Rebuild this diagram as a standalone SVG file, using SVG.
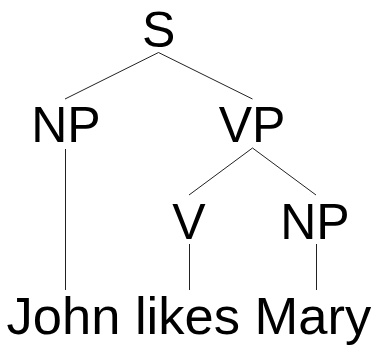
<svg xmlns="http://www.w3.org/2000/svg" width="381" height="351" viewBox="0 0 381 351">
  <style>
    .lbl { font-family: "Liberation Sans", Arial, sans-serif; font-size: 50px; fill: #000; text-anchor: middle; }
    .word { font-family: "Liberation Sans", Arial, sans-serif; font-size: 52.5px; fill: #000; }
    .edge { stroke: #222; stroke-width: 1; fill: none; }
  </style>
  <rect width="381" height="351" fill="#fff"/>
  <g id="edges">
    <line class="edge" x1="158.5" y1="52.5" x2="65" y2="99"/>
    <line class="edge" x1="158.5" y1="52.5" x2="252.5" y2="99"/>
    <line class="edge" x1="65.5" y1="149" x2="65.5" y2="290"/>
    <line class="edge" x1="252.5" y1="148" x2="189" y2="195"/>
    <line class="edge" x1="252.5" y1="148" x2="316" y2="195"/>
    <line class="edge" x1="189.5" y1="244" x2="189.5" y2="290"/>
    <line class="edge" x1="316.5" y1="244" x2="316.5" y2="290"/>
  </g>
  <g id="S"><text class="lbl" x="158.7" y="46.5">S</text></g>
  <g id="NP1"><text class="lbl" x="66" y="142">NP</text></g>
  <g id="VP"><text class="lbl" x="252" y="142">VP</text></g>
  <g id="V"><text class="lbl" x="189" y="239">V</text></g>
  <g id="NP2"><text class="lbl" x="315" y="239">NP</text></g>
  <g id="words"><text class="word" x="6.5" y="334">John likes Mary</text></g>
</svg>
